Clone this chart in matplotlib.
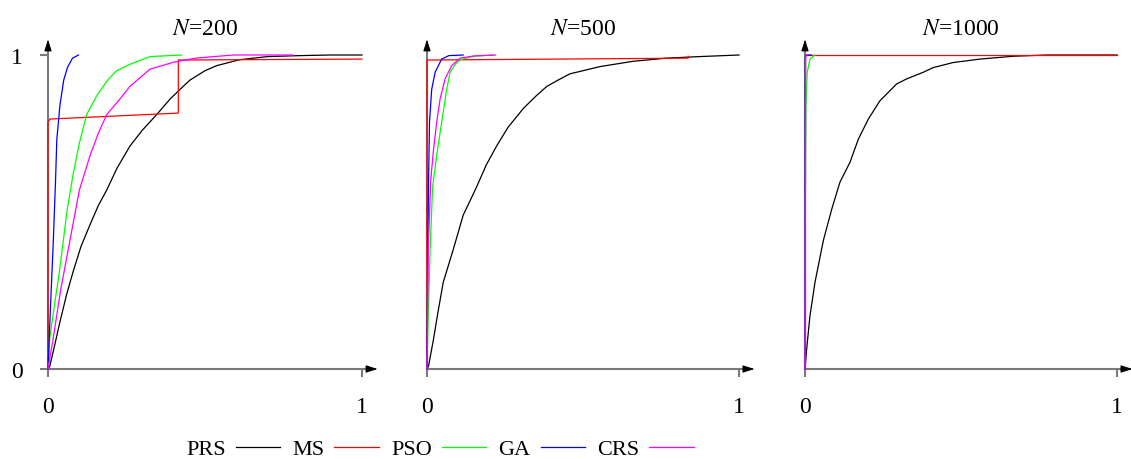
import matplotlib
matplotlib.use('Agg')
import matplotlib.pyplot as plt
import numpy as np

plt.rcParams['font.family'] = ['Liberation Serif', 'DejaVu Serif']
plt.rcParams['mathtext.fontset'] = 'stix'

methods = ['PRS', 'MS', 'PSO', 'GA', 'CRS']
colors = ['black', 'red', '#00ff00', 'blue', 'magenta']
titles = [r'$N$=200', r'$N$=500', r'$N$=1000']

# ---- N=200 ----
prs1_x = [0, 0.006, 0.02, 0.038, 0.06, 0.08, 0.105, 0.134, 0.16, 0.187, 0.22, 0.261, 0.30,
          0.346, 0.389, 0.42, 0.452, 0.50, 0.537, 0.61, 0.70, 0.80, 0.90, 1.0]
prs1_y = [0, 0.01, 0.07, 0.15, 0.24, 0.31, 0.39, 0.46, 0.52, 0.57, 0.64, 0.71, 0.76,
          0.81, 0.86, 0.89, 0.92, 0.95, 0.966, 0.985, 0.995, 0.998, 1.0, 1.0]
ms1_x = [0, 0, 0.006, 0.415, 0.415, 1.0]
ms1_y = [0, 0.786, 0.796, 0.815, 0.984, 0.987]
pso1_x = [0, 0.006, 0.02, 0.035, 0.049, 0.06, 0.08, 0.10, 0.123, 0.155, 0.19, 0.219, 0.26, 0.325, 0.426]
pso1_y = [0, 0.1, 0.2, 0.3, 0.41, 0.5, 0.62, 0.72, 0.81, 0.87, 0.92, 0.95, 0.97, 0.995, 1.0]
ga1_x = [0, 0.008, 0.017, 0.024, 0.028, 0.038, 0.05, 0.062, 0.078, 0.097]
ga1_y = [0, 0.2, 0.41, 0.6, 0.73, 0.84, 0.92, 0.96, 0.99, 1.0]
crs1_x = [0, 0.017, 0.04, 0.07, 0.10, 0.134, 0.16, 0.187, 0.229, 0.261, 0.325, 0.40, 0.47, 0.59, 0.78]
crs1_y = [0, 0.1, 0.25, 0.41, 0.57, 0.68, 0.75, 0.81, 0.86, 0.90, 0.955, 0.977, 0.99, 1.0, 1.0]

# ---- N=500 ----
prs2_x = [0, 0.005, 0.02, 0.035, 0.052, 0.084, 0.116, 0.14, 0.159, 0.19, 0.223, 0.26, 0.309,
          0.35, 0.384, 0.42, 0.458, 0.50, 0.554, 0.661, 0.768, 0.875, 1.0]
prs2_y = [0, 0.01, 0.09, 0.18, 0.276, 0.38, 0.49, 0.54, 0.58, 0.65, 0.71, 0.77, 0.83,
          0.87, 0.90, 0.92, 0.94, 0.95, 0.963, 0.98, 0.99, 0.995, 1.0]
ms2_x = [0, 0, 0.837, 0.837]
ms2_y = [0, 0.984, 0.99, 0.996]
pso2_x = [0, 0.004, 0.01, 0.018, 0.031, 0.047, 0.063, 0.074, 0.09, 0.106, 0.15, 0.213]
pso2_y = [0, 0.17, 0.38, 0.58, 0.68, 0.786, 0.89, 0.945, 0.97, 0.985, 0.996, 1.0]
ga2_x = [0, 0.002, 0.005, 0.008, 0.015, 0.026, 0.047, 0.07, 0.116]
ga2_y = [0, 0.3, 0.6, 0.786, 0.89, 0.945, 0.987, 0.998, 1.0]
crs2_x = [0, 0.004, 0.012, 0.02, 0.031, 0.042, 0.058, 0.079, 0.106, 0.15, 0.22]
crs2_y = [0, 0.38, 0.6, 0.69, 0.786, 0.86, 0.924, 0.966, 0.99, 0.997, 1.0]

# ---- N=1000 ----
prs3_x = [0, 0.005, 0.016, 0.032, 0.059, 0.086, 0.112, 0.144, 0.171, 0.203, 0.24, 0.272, 0.294,
          0.326, 0.379, 0.411, 0.475, 0.561, 0.667, 0.775, 0.9, 1.0]
prs3_y = [0, 0.06, 0.17, 0.276, 0.41, 0.51, 0.595, 0.658, 0.732, 0.796, 0.854, 0.886, 0.908,
          0.924, 0.945, 0.96, 0.976, 0.987, 0.996, 1.0, 1.0, 1.0]
ms3_x = [0, 0, 1.0]
ms3_y = [0, 1.0, 1.0]
pso3_x = [0, 0.001, 0.002, 0.003, 0.007, 0.016, 0.032]
pso3_y = [0, 0.5, 0.7, 0.84, 0.945, 0.987, 1.0]
ga3_x = [0, 0.001, 0.003, 0.02]
ga3_y = [0, 0.99, 1.0, 1.0]
crs3_x = [0, 0.002, 0.004]
crs3_y = [0, 0.995, 1.0]

panels = [
    [(prs1_x, prs1_y), (ms1_x, ms1_y), (pso1_x, pso1_y), (ga1_x, ga1_y), (crs1_x, crs1_y)],
    [(prs2_x, prs2_y), (ms2_x, ms2_y), (pso2_x, pso2_y), (ga2_x, ga2_y), (crs2_x, crs2_y)],
    [(prs3_x, prs3_y), (ms3_x, ms3_y), (pso3_x, pso3_y), (ga3_x, ga3_y), (crs3_x, crs3_y)],
]

W, H = 1131, 460
fig = plt.figure(figsize=(W / 100, H / 100), dpi=100)
lefts = [48, 427, 805]
widths = [314, 312, 312]
axc = '#7a7a7a'
fs = 17

handles = []
for i, ax_left in enumerate(lefts):
    ax = fig.add_axes([ax_left / W, 90 / H, widths[i] / W, 314 / H])
    for sp in ax.spines.values():
        sp.set_visible(False)
    ax.set_xlim(0, 1)
    ax.set_ylim(0, 1)

    # axes with arrows
    ax.plot([0, 1.02], [0, 0], color=axc, lw=1.5, clip_on=False, zorder=1)
    ax.plot([0, 0], [0, 1.02], color=axc, lw=1.5, clip_on=False, zorder=1)
    ax.annotate('', xy=(1.05, 0), xytext=(1.015, 0), annotation_clip=False,
                arrowprops=dict(arrowstyle='-|>,head_length=0.7,head_width=0.22',
                                color='black', lw=0.8, shrinkA=0, shrinkB=0))
    ax.annotate('', xy=(0, 1.05), xytext=(0, 1.015), annotation_clip=False,
                arrowprops=dict(arrowstyle='-|>,head_length=0.7,head_width=0.22',
                                color='black', lw=0.8, shrinkA=0, shrinkB=0))

    for (xs, ys), c, m in zip(panels[i], colors, methods):
        ln, = ax.plot(xs, ys, color=c, lw=0.9, clip_on=False, label=m, zorder=3)
        if i == 0:
            handles.append(ln)

    ax.set_xticks([0, 1])
    ax.set_yticks([0, 1])
    ax.set_xticklabels(['0', '1'])
    ax.set_yticklabels(['0', '1'] if i == 0 else ['', ''])
    ax.tick_params(axis='x', length=5.8, width=1.5, color=axc, pad=14, labelsize=fs)
    ax.tick_params(axis='y', length=5.8, width=1.5, color=axc, pad=12, labelsize=fs)
    if i > 0:
        ax.tick_params(axis='y', length=0)
    ax.set_title(titles[i], fontsize=fs, pad=15)

fig.legend(handles, methods, loc='center', bbox_to_anchor=(440 / W, 1 - 450 / H),
           ncol=5, frameon=False, fontsize=16, markerfirst=False,
           handlelength=2.0, handletextpad=0.45, columnspacing=0.55)

fig.savefig('out.png', dpi=100)
